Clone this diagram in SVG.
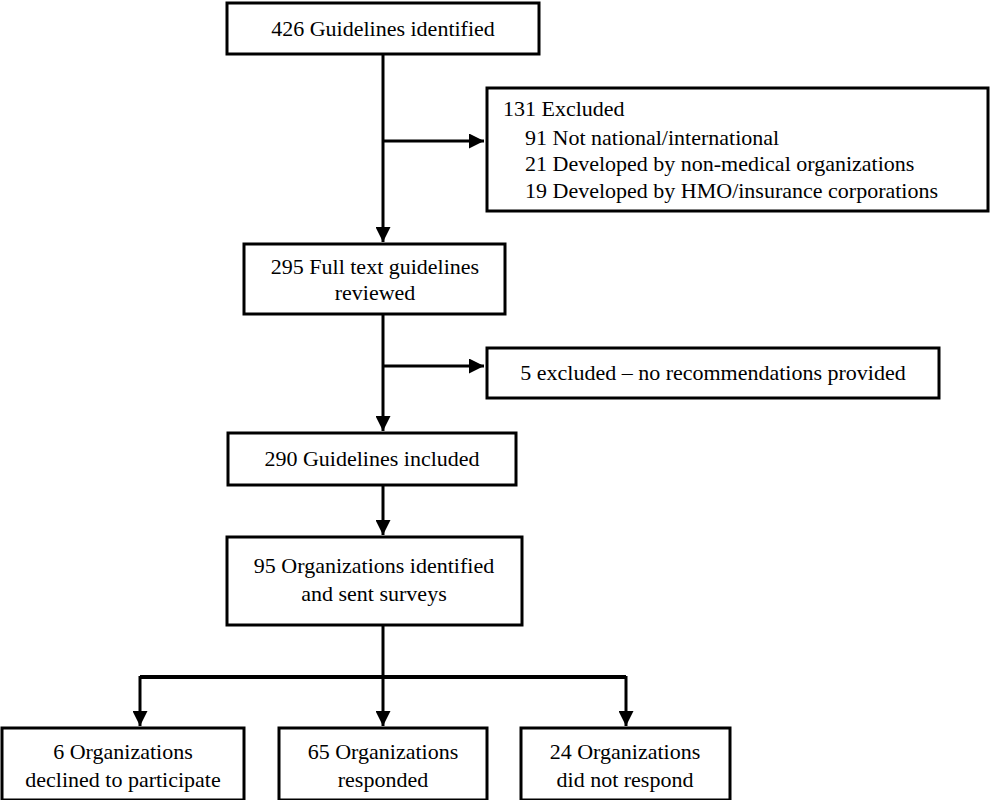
<svg xmlns="http://www.w3.org/2000/svg" width="991" height="800" viewBox="0 0 991 800">
<defs>
<marker id="ah" viewBox="0 0 10 10" refX="10" refY="5" markerWidth="5" markerHeight="5" orient="auto" markerUnits="strokeWidth"><path d="M0,0 L10,5 L0,10 z" fill="#000"/></marker>
<style>
rect{fill:#fff;stroke:#000;stroke-width:3}
text{font-family:"Liberation Serif","Times New Roman",serif;font-size:22px;fill:#000}
.c{text-anchor:middle}
#connectors line{stroke:#000;stroke-width:3}
</style>
</defs>
<rect width="991" height="800" style="stroke:none"/>
<g id="connectors">
<line x1="383" y1="54" x2="383" y2="242" marker-end="url(#ah)"/>
<line x1="383" y1="141" x2="484" y2="141" marker-end="url(#ah)"/>
<line x1="383" y1="314" x2="383" y2="431" marker-end="url(#ah)"/>
<line x1="383" y1="366" x2="484" y2="366" marker-end="url(#ah)"/>
<line x1="383" y1="485" x2="383" y2="535" marker-end="url(#ah)"/>
<line x1="383" y1="625" x2="383" y2="726" marker-end="url(#ah)"/>
<line x1="140" y1="677" x2="626" y2="677" style="stroke-width:4"/>
<line x1="140" y1="676" x2="140" y2="726" marker-end="url(#ah)"/>
<line x1="626" y1="676" x2="626" y2="726" marker-end="url(#ah)"/>
</g>
<g id="n1"><rect x="227" y="3" width="312" height="51"/><text class="c" x="383" y="36">426 Guidelines identified</text></g>
<g id="n2"><rect x="487" y="88" width="501" height="123"/>
<text x="503" y="116">131 Excluded</text>
<text x="525" y="145">91 Not national/international</text>
<text x="525" y="171">21 Developed by non-medical organizations</text>
<text x="525" y="198">19 Developed by HMO/insurance corporations</text></g>
<g id="n3"><rect x="244" y="244" width="261" height="70"/><text class="c" x="375" y="274">295 Full text guidelines</text><text class="c" x="375" y="300">reviewed</text></g>
<g id="n4"><rect x="487" y="348" width="452" height="50"/><text class="c" x="713" y="380">5 excluded – no recommendations provided</text></g>
<g id="n5"><rect x="228" y="433" width="288" height="52"/><text class="c" x="372" y="466">290 Guidelines included</text></g>
<g id="n6"><rect x="227" y="537" width="295" height="88"/><text class="c" x="374" y="573">95 Organizations identified</text><text class="c" x="374" y="601">and sent surveys</text></g>
<g id="n7"><rect x="2" y="728" width="242" height="72"/><text class="c" x="123" y="759">6 Organizations</text><text class="c" x="123" y="787">declined to participate</text></g>
<g id="n8"><rect x="279" y="728" width="208" height="72"/><text class="c" x="383" y="759">65 Organizations</text><text class="c" x="383" y="787">responded</text></g>
<g id="n9"><rect x="521" y="728" width="209" height="72"/><text class="c" x="625" y="759">24 Organizations</text><text class="c" x="625" y="787">did not respond</text></g>
</svg>
